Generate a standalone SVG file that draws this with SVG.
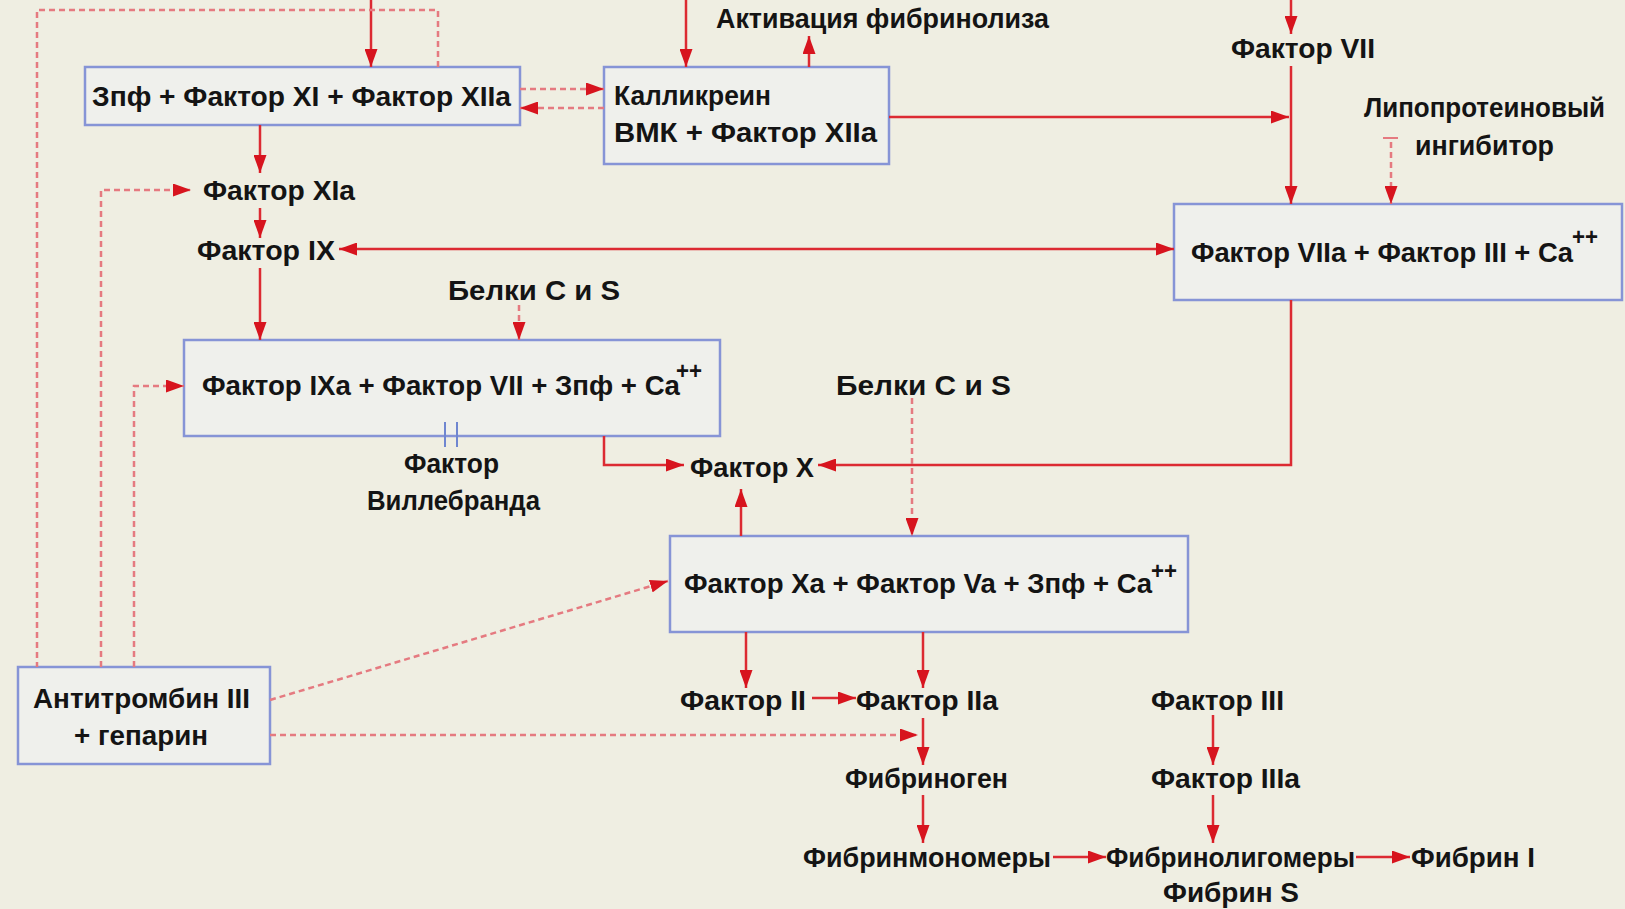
<svg xmlns="http://www.w3.org/2000/svg" width="1625" height="909" viewBox="0 0 1625 909">
<defs>
<style>
.bg{fill:#EFEEE2}
.box{fill:#EFF0EC;stroke:#8694D6;stroke-width:2.5}
.t{font-family:"Liberation Sans Narrow","Liberation Sans",Arial,sans-serif;font-weight:bold;font-size:27px;fill:#141414}
.sup{font-family:"Liberation Sans Narrow","Liberation Sans",Arial,sans-serif;font-weight:bold;font-size:24px;fill:#141414}
.s{fill:none;stroke:#DC2A32;stroke-width:2.5}
.d{fill:none;stroke:#E57A80;stroke-width:2.5;stroke-dasharray:6 4}
.vw{fill:none;stroke:#6F86D0;stroke-width:2}
</style>
<marker id="ah" viewBox="0 0 18 13" refX="18" refY="6.5" markerWidth="18" markerHeight="13" markerUnits="userSpaceOnUse" orient="auto-start-reverse">
<path d="M0,0 L18,6.5 L0,13 z" fill="#D7141E"/>
</marker>
</defs>
<rect class="bg" x="0" y="0" width="1625" height="909"/>

<g id="nodeA">
<rect class="box" x="85" y="67" width="435" height="58"/>
<text class="t" x="92" y="106" textLength="419" lengthAdjust="spacingAndGlyphs">Зпф + Фактор XI + Фактор XIIa</text>
</g>
<g id="nodeB">
<rect class="box" x="604" y="67" width="285" height="97"/>
<text class="t" x="614" y="105" textLength="157" lengthAdjust="spacingAndGlyphs">Калликреин</text>
<text class="t" x="614" y="142" textLength="263" lengthAdjust="spacingAndGlyphs">ВМК + Фактор XIIa</text>
</g>
<g id="nodeC">
<rect class="box" x="1174" y="204" width="448" height="96"/>
<text class="t" x="1191" y="262" textLength="382" lengthAdjust="spacingAndGlyphs">Фактор VIIa + Фактор III + Ca</text>
<text class="sup" x="1572" y="245" textLength="26" lengthAdjust="spacingAndGlyphs">++</text>
</g>
<g id="nodeD">
<rect class="box" x="184" y="340" width="536" height="96"/>
<text class="t" x="202" y="395" textLength="478" lengthAdjust="spacingAndGlyphs">Фактор IXa + Фактор VII + Зпф + Ca</text>
<text class="sup" x="676" y="379" textLength="26" lengthAdjust="spacingAndGlyphs">++</text>
</g>
<g id="nodeE">
<rect class="box" x="670" y="536" width="518" height="96"/>
<text class="t" x="684" y="593" textLength="468" lengthAdjust="spacingAndGlyphs">Фактор Xa + Фактор Va + Зпф + Ca</text>
<text class="sup" x="1151" y="579" textLength="26" lengthAdjust="spacingAndGlyphs">++</text>
</g>
<g id="nodeF">
<rect class="box" x="18" y="667" width="252" height="97"/>
<text class="t" x="33" y="708" textLength="217" lengthAdjust="spacingAndGlyphs">Антитромбин III</text>
<text class="t" x="74" y="745" textLength="134" lengthAdjust="spacingAndGlyphs">+ гепарин</text>
</g>

<g id="fibrinolysis"><text class="t" x="716" y="28" textLength="333" lengthAdjust="spacingAndGlyphs">Активация фибринолиза</text></g>
<g id="factorVII"><text class="t" x="1231" y="58" textLength="144" lengthAdjust="spacingAndGlyphs">Фактор VII</text></g>
<g id="lipoInhibitor">
<text class="t" x="1364" y="117" textLength="241" lengthAdjust="spacingAndGlyphs">Липопротеиновый</text>
<text class="t" x="1415" y="155" textLength="139" lengthAdjust="spacingAndGlyphs">ингибитор</text>
</g>
<g id="factorXIa"><text class="t" x="203" y="200" textLength="152" lengthAdjust="spacingAndGlyphs">Фактор XIa</text></g>
<g id="factorIX"><text class="t" x="197" y="260" textLength="138" lengthAdjust="spacingAndGlyphs">Фактор IX</text></g>
<g id="proteinsCS1"><text class="t" x="448" y="300" textLength="172" lengthAdjust="spacingAndGlyphs">Белки С и S</text></g>
<g id="vonWillebrand">
<text class="t" x="404" y="473" textLength="95" lengthAdjust="spacingAndGlyphs">Фактор</text>
<text class="t" x="367" y="510" textLength="173" lengthAdjust="spacingAndGlyphs">Виллебранда</text>
</g>
<g id="proteinsCS2"><text class="t" x="836" y="395" textLength="175" lengthAdjust="spacingAndGlyphs">Белки С и S</text></g>
<g id="factorX"><text class="t" x="690" y="477" textLength="124" lengthAdjust="spacingAndGlyphs">Фактор X</text></g>
<g id="factorII"><text class="t" x="680" y="710" textLength="126" lengthAdjust="spacingAndGlyphs">Фактор II</text></g>
<g id="factorIIa"><text class="t" x="856" y="710" textLength="142" lengthAdjust="spacingAndGlyphs">Фактор IIa</text></g>
<g id="factorIII"><text class="t" x="1151" y="710" textLength="133" lengthAdjust="spacingAndGlyphs">Фактор III</text></g>
<g id="fibrinogen"><text class="t" x="845" y="788" textLength="163" lengthAdjust="spacingAndGlyphs">Фибриноген</text></g>
<g id="factorIIIa"><text class="t" x="1151" y="788" textLength="149" lengthAdjust="spacingAndGlyphs">Фактор IIIa</text></g>
<g id="fibrinmonomers"><text class="t" x="803" y="867" textLength="248" lengthAdjust="spacingAndGlyphs">Фибринмономеры</text></g>
<g id="fibrinoligomers">
<text class="t" x="1106" y="867" textLength="249" lengthAdjust="spacingAndGlyphs">Фибринолигомеры</text>
<text class="t" x="1163" y="902" textLength="136" lengthAdjust="spacingAndGlyphs">Фибрин S</text>
</g>
<g id="fibrinI"><text class="t" x="1411" y="867" textLength="124" lengthAdjust="spacingAndGlyphs">Фибрин I</text></g>

<g id="connectors">
<path class="s" d="M371,0 V67" marker-end="url(#ah)"/>
<path class="d" d="M438,67 V10 H37 V667"/>
<path class="d" d="M520,89 H604" marker-end="url(#ah)"/>
<path class="d" d="M604,108 H520" marker-end="url(#ah)"/>
<path class="s" d="M686,0 V67" marker-end="url(#ah)"/>
<path class="s" d="M809,67 V36" marker-end="url(#ah)"/>
<path class="s" d="M889,117 H1289" marker-end="url(#ah)"/>
<path class="s" d="M1291,0 V34" marker-end="url(#ah)"/>
<path class="s" d="M1291,66 V204" marker-end="url(#ah)"/>
<path class="d" d="M1391,142 V204" marker-end="url(#ah)"/>
<path class="d" d="M1383,138 H1398" style="stroke-dasharray:none;stroke-width:2"/>
<path class="s" d="M260,125 V173" marker-end="url(#ah)"/>
<path class="d" d="M101,667 V190 H191" marker-end="url(#ah)"/>
<path class="s" d="M260,208 V238" marker-end="url(#ah)"/>
<path class="s" d="M339,249 H1174" marker-start="url(#ah)" marker-end="url(#ah)"/>
<path class="s" d="M260,268 V340" marker-end="url(#ah)"/>
<path class="d" d="M519,305 V340" marker-end="url(#ah)"/>
<path class="d" d="M134,667 V386 H184" marker-end="url(#ah)"/>
<path class="s" d="M604,436 V465 H684" marker-end="url(#ah)"/>
<path class="s" d="M1291,300 V465 H818" marker-end="url(#ah)"/>
<path class="s" d="M741,536 V489" marker-end="url(#ah)"/>
<path class="d" d="M912,398 V536" marker-end="url(#ah)"/>
<path class="d" d="M270,700 L668,581" marker-end="url(#ah)"/>
<path class="d" d="M270,735 H918" marker-end="url(#ah)"/>
<path class="s" d="M746,632 V688" marker-end="url(#ah)"/>
<path class="s" d="M923,632 V688" marker-end="url(#ah)"/>
<path class="s" d="M812,698 H856" marker-end="url(#ah)"/>
<path class="s" d="M923,718 V765" marker-end="url(#ah)"/>
<path class="s" d="M923,795 V843" marker-end="url(#ah)"/>
<path class="s" d="M1213,715 V765" marker-end="url(#ah)"/>
<path class="s" d="M1213,795 V843" marker-end="url(#ah)"/>
<path class="s" d="M1053,857 H1106" marker-end="url(#ah)"/>
<path class="s" d="M1356,857 H1410" marker-end="url(#ah)"/>
<path class="vw" d="M445,422 V447 M457,422 V447"/>
</g>
</svg>
